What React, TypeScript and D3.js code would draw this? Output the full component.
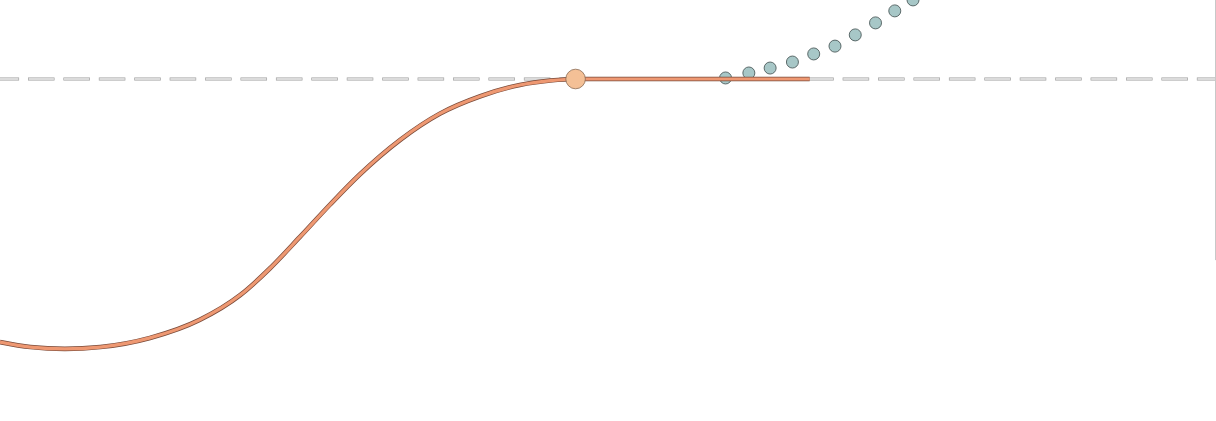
import * as d3 from 'd3';
import { useMemo } from 'react';

// time (s) and response values
const responseT = [0, 0.3, 0.64, 0.99, 1.48, 1.97, 2.37, 2.66, 2.96, 3.26, 3.55, 3.95, 4.34, 4.74, 5.13, 5.43, 5.68, 7.99];
const responseY = [-0.008, -0.027, -0.034, -0.027, 0.008, 0.077, 0.172, 0.273, 0.395, 0.52, 0.634, 0.767, 0.867, 0.934, 0.977, 0.994, 1, 1];

const projectedT = [7.16, 7.39, 7.6, 7.82, 8.03, 8.24, 8.44, 8.64, 8.83, 9.01];
const projectedY = [1.004, 1.023, 1.042, 1.065, 1.096, 1.126, 1.169, 1.215, 1.261, 1.303];

const settleT = 5.68;
const settleY = 1;
const targetY = 1;
const boundaryT = 11.99;
const boundaryFrom = 0.306;

const WIDTH = 1216;
const HEIGHT = 421;

export default function App() {
  const x = useMemo(() => d3.scaleLinear().domain([0, 12]).range([0, WIDTH]), []);
  const y = useMemo(() => d3.scaleLinear().domain([0, 1]).range([340, 79]), []);

  const response = responseT.map((t, i) => [t, responseY[i]] as [number, number]);
  const projected = projectedT.map((t, i) => ({ t, v: projectedY[i] }));

  const linePath = d3.line<[number, number]>()
    .x(d => x(d[0]))
    .y(d => y(d[1]))
    .curve(d3.curveMonotoneX)(response) ?? '';

  const ty = y(targetY);

  return (
    <svg
      width={WIDTH}
      height={HEIGHT}
      style={{ position: 'absolute', left: 0, top: 0, background: '#fff' }}
    >
      {/* target reference line */}
      <line x1={0} x2={WIDTH} y1={ty} y2={ty}
        stroke="#9c9c9c" strokeWidth={3.2}
        strokeDasharray="26.5,8.92" strokeDashoffset={7.42} />
      <line x1={0} x2={WIDTH} y1={ty} y2={ty}
        stroke="#f0f0f0" strokeWidth={1.4}
        strokeDasharray="25.3,10.12" strokeDashoffset={6.82} />

      {/* right boundary */}
      <line x1={x(boundaryT) + 0.5} x2={x(boundaryT) + 0.5} y1={0} y2={y(boundaryFrom)}
        stroke="#c8c8c8" strokeWidth={1} />

      {/* projected points */}
      {projected.map((d, i) => (
        <circle key={i} cx={x(d.t)} cy={y(d.v)} r={6}
          fill="#a7c7c7" stroke="#4e5c5c" strokeWidth={0.9} />
      ))}

      {/* response curve */}
      <path d={linePath} fill="none" stroke="#7a4b3a" strokeWidth={4.6} />
      <path d={linePath} fill="none" stroke="#ee9872" strokeWidth={3.2} />

      <circle cx={x(settleT)} cy={y(settleY)} r={9.8}
        fill="#f4c096" stroke="#8a6a52" strokeWidth={0.8} />
    </svg>
  );
}
